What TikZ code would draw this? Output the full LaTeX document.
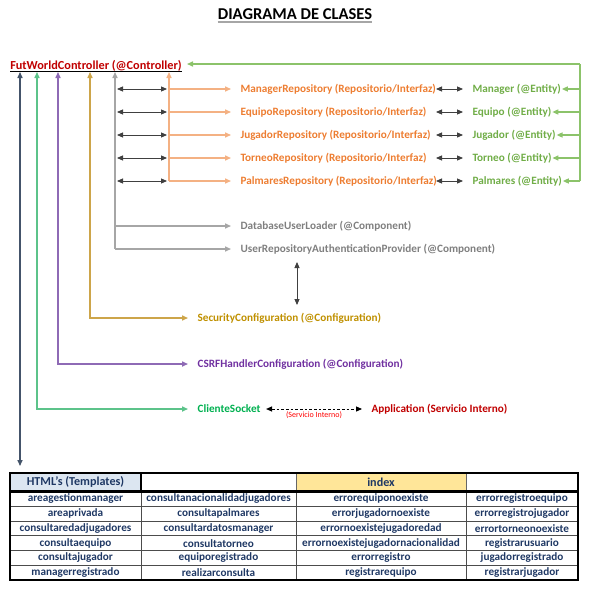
\documentclass[tikz,border=0pt]{standalone}
\usepackage{fontspec}
\setmainfont{Carlito}
\usetikzlibrary{arrows.meta}
\definecolor{ctrlred}{HTML}{C00000}
\definecolor{repoorange}{HTML}{ED7D31}
\definecolor{repoline}{HTML}{F4B183}
\definecolor{entgreen}{HTML}{70AD47}
\definecolor{entline}{HTML}{8CC36A}
\definecolor{compgray}{HTML}{7F7F7F}
\definecolor{compline}{HTML}{A6A6A6}
\definecolor{secgold}{HTML}{BF9000}
\definecolor{secline}{HTML}{CDA54A}
\definecolor{csrfpurple}{HTML}{7030A0}
\definecolor{csrfline}{HTML}{8E6AB5}
\definecolor{sockgreen}{HTML}{00B050}
\definecolor{sockline}{HTML}{5CC38A}
\definecolor{htmlblue}{HTML}{44546A}
\definecolor{tabtext}{HTML}{1F3864}
\definecolor{headblue}{HTML}{DCE6F1}
\definecolor{headyellow}{HTML}{FFE699}
\tikzset{
  lbl/.style={anchor=west, inner xsep=7pt, inner ysep=1pt, font=\fontsize{8.4}{10}\selectfont\bfseries},
  cell/.style={inner sep=0pt, text=tabtext, font=\fontsize{8.4}{10}\selectfont\bfseries},
  conn/.style={line width=1pt}
}

\begin{document}
\begin{tikzpicture}[x=0.75pt, y=-0.75pt, >={Triangle[length=4.5pt,width=3.8pt]}]
  \useasboundingbox (0,0) rectangle (593,593);

  % title and controller
  \node [inner sep=0pt, font=\fontsize{12.4}{14}\selectfont\bfseries] (title) at (295,14) {DIAGRAMA DE CLASES};
  \draw [compline, line width=1.4pt] ([yshift=-1.5pt]title.south west) -- ([yshift=-1.5pt]title.south east);
  \node [anchor=base west, inner sep=0pt, text=ctrlred, font=\fontsize{9.2}{11}\selectfont\bfseries] (ctrl) at (10,69) {FutWorldController (@Controller)};
  \draw [line width=0.7pt] (ctrl.west |- 0,71) -- (ctrl.east |- 0,71);

  % repositories and entities
  \draw [conn, repoline, <-] (169,72) -- (169,181);
  \draw [conn, compline, <-] (115,72) -- (115,249);
  \coordinate (entback) at (580,64);
  \coordinate (ctrlin) at (187,64);
  \draw [conn, entline, ->] (entback) -- (ctrlin);
  \draw [conn, entline] (entback) -- (580,181);
  \foreach \repo/\yy in {Manager/89, Equipo/112, Jugador/135, Torneo/158, Palmares/181} {
    \node [lbl, text=repoorange] (r\repo) at (231,\yy) {\repo Repository (Repositorio/Interfaz)};
    \node [lbl, text=entgreen] (e\repo) at (463,\yy) {\repo\ (@Entity)};
    \draw [conn, repoline, ->] (169,\yy) -- (r\repo.west);
    \draw [black!75, line width=0.7pt, <->] (117,\yy) -- (167,\yy);
    \draw [black!75, line width=0.7pt, <->] (436,\yy) -- (e\repo.west);
    \draw [conn, entline, ->] (580,\yy) -- ([xshift=-6.5pt]e\repo.east);
  }

  % components
  \node [lbl, text=compgray] (dbloader) at (231,226) {DatabaseUserLoader (@Component)};
  \node [lbl, text=compgray] (authprov) at (231,249) {UserRepositoryAuthenticationProvider (@Component)};
  \draw [conn, compline, ->] (115,226) -- (dbloader.west);
  \draw [conn, compline, ->] (115,249) -- (authprov.west);
  \coordinate (authlink) at (297,262);
  \coordinate (seclink) at (297,305);
  \draw [black!75, line width=0.7pt, <->] (authlink) -- (seclink);

  % configurations and socket
  \node [lbl, text=secgold] (secconf) at (188,318) {SecurityConfiguration (@Configuration)};
  \draw [conn, secline, <->] (90,72) |- (secconf.west);
  \node [lbl, text=csrfpurple] (csrf) at (188,364) {CSRFHandlerConfiguration (@Configuration)};
  \draw [conn, csrfline, <->] (58,72) |- (csrf.west);
  \node [lbl, text=sockgreen] (cliente) at (188,409) {ClienteSocket};
  \draw [conn, sockline, <->] (37,72) |- (cliente.west);
  \node [lbl, text=ctrlred] (app) at (362,409) {Application (Servicio Interno)};
  \draw [black, line width=0.7pt, dash pattern=on 2pt off 1.5pt, <->] ([xshift=-3pt]cliente.east) -- (app.west)
    node [midway, below=1.5pt, inner sep=0pt, text=red, font=\fontsize{6}{7}\selectfont] (svcnote) {(Servicio Interno)};

  % templates table
  \coordinate (tabtop) at (20,466);
  \draw [conn, htmlblue, <->] (20,72) -- (tabtop);
  \fill [headblue] (10,473) rectangle (141,491.5);
  \fill [headyellow] (296,473) rectangle (466,491.5);
  \draw [black!60, line width=0.4pt] (296,473) -- (296,491.5);
  \draw [black!60, line width=0.4pt] (466,473) -- (466,491.5);
  \draw [line width=2pt] (141,473) -- (141,491.5);
  \draw [line width=2pt] (10,473) rectangle (578,491.5);
  \node [cell, font=\fontsize{9.1}{10}\selectfont\bfseries] (htmlhead) at (75.5,482) {HTML’s (Templates)};
  \node [cell, font=\fontsize{9.1}{10}\selectfont\bfseries] (indexhead) at (381,482) {index};
  \foreach \r in {1,...,5}
    \draw [black!70, line width=0.4pt] (10,{491.5+14.75*\r}) -- (578,{491.5+14.75*\r});
  \foreach \x in {141,296,466}
    \draw [black!70, line width=0.4pt] (\x,491.5) -- (\x,580);
  \draw [line width=2pt] (10,491.5) rectangle (578,580);
  \foreach \ca/\cb/\cc/\cd [count=\r] in {
      areagestionmanager/consultanacionalidadjugadores/errorequiponoexiste/errorregistroequipo,
      areaprivada/consultapalmares/errorjugadornoexiste/errorregistrojugador,
      consultaredadjugadores/consultardatosmanager/errornoexistejugadoredad/errortorneonoexiste,
      consultaequipo/consultatorneo/errornoexistejugadornacionalidad/registrarusuario,
      consultajugador/equiporegistrado/errorregistro/jugadorregistrado,
      managerregistrado/realizarconsulta/registrarequipo/registrarjugador} {
    \node [cell] (ca\r) at (75.5,{491.5+14.75*(\r-0.5)}) {\ca};
    \node [cell] (cb\r) at (218.5,{491.5+14.75*(\r-0.5)}) {\cb};
    \node [cell] (cc\r) at (381,{491.5+14.75*(\r-0.5)}) {\cc};
    \node [cell] (cd\r) at (522,{491.5+14.75*(\r-0.5)}) {\cd};
  }
\end{tikzpicture}
\end{document}
